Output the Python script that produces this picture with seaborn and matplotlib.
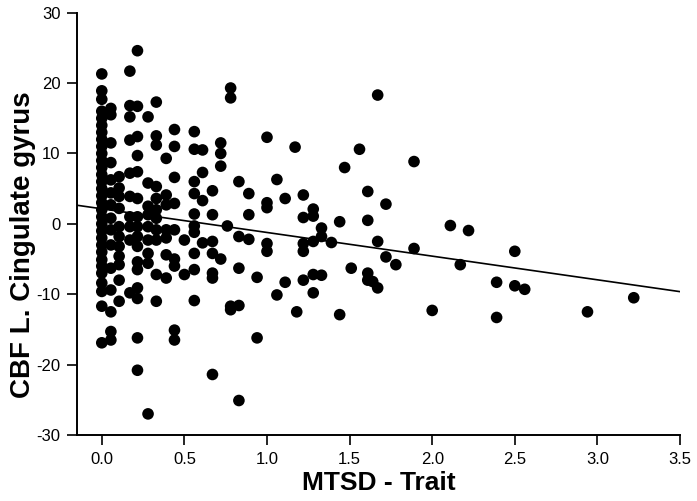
import numpy as np
import pandas as pd
import seaborn as sns
import matplotlib.pyplot as plt

# ---- data ----
x_vals = (
    [0.0] * 31
    + [0.055] * 15
    + [0.105] * 11
    + [0.17] * 10
    + [0.216] * 16
    + [0.28] * 9
    + [0.33] * 11
    + [0.39] * 7
    + [0.44] * 9
    + [0.50] * 2
    + [0.56] * 10
    + [0.61] * 4
    + [0.67] * 7
    + [0.72] * 4
    + [0.76]
    + [0.78] * 4
    + [0.83] * 5
    + [0.89] * 3
    + [0.94] * 2
    + [1.0] * 5
    + [1.06] * 2
    + [1.11] * 2
    + [1.17, 1.18]
    + [1.22] * 5
    + [1.28] * 5
    + [1.33] * 3
    + [1.39]
    + [1.44] * 2
    + [1.47, 1.51, 1.56]
    + [1.61] * 4
    + [1.64]
    + [1.67] * 3
    + [1.72] * 2
    + [1.78]
    + [1.89] * 2
    + [2.0, 2.11, 2.17, 2.22]
    + [2.39] * 2
    + [2.50] * 2
    + [2.56, 2.94, 3.22]
)
y_vals = (
    [21.3, 18.9, 17.7, 16.0, 15.0, 14.0, 13.0, 12.0, 11.0, 10.0, 9.0, 8.0, 7.0, 6.0, 5.0, 4.0,
     3.0, 2.0, 1.0, 0.0, -1.0, -2.0, -3.0, -4.0, -5.1, -6.0, -7.0, -8.4, -9.6, -11.7, -16.9]
    + [16.4, 15.5, 11.5, 8.7, 6.25, 4.4, 2.7, 0.8, -0.85, -3.0, -6.3, -9.4, -12.5, -15.3, -16.5]
    + [6.7, 5.1, 3.9, 2.2, -0.4, -1.8, -3.2, -4.6, -5.8, -8.0, -11.0]
    + [21.7, 16.8, 15.2, 11.9, 7.2, 3.9, 1.0, -0.4, -2.3, -9.8]
    + [24.6, 16.7, 12.4, 9.7, 7.4, 3.6, 1.0, -0.4, -1.8, -3.2, -5.4, -6.5, -9.1, -10.6, -16.2, -20.8]
    + [15.2, 5.8, 2.5, 1.3, -0.4, -2.3, -4.2, -5.6, -27.0]
    + [17.3, 12.5, 11.2, 5.3, 3.6, 2.0, 0.8, -0.85, -2.3, -7.2, -11.0]
    + [9.3, 4.1, 2.7, -0.85, -2.0, -4.4, -7.7]
    + [13.4, 11.0, 6.6, 2.9, -0.85, -5.0, -6.0, -15.1, -16.5]
    + [-2.3, -7.2]
    + [13.1, 10.6, 6.0, 4.3, 1.4, -0.3, -1.2, -4.2, -6.5, -10.9]
    + [10.5, 7.3, 3.3, -2.7]
    + [4.7, 1.3, -2.5, -4.2, -7.0, -7.7, -21.4]
    + [11.5, 10.0, 8.2, -5.0]
    + [-0.3]
    + [19.3, 17.9, -11.7, -12.2]
    + [6.0, -1.8, -6.3, -11.6, -25.1]
    + [4.3, 1.3, -2.2]
    + [-7.6, -16.2]
    + [12.3, 3.0, 2.3, -2.8, -3.9]
    + [6.3, -10.1]
    + [3.6, -8.3]
    + [10.9, -12.5]
    + [4.1, 0.9, -2.8, -3.9, -8.0]
    + [2.1, 1.1, -2.5, -7.2, -9.8]
    + [-0.6, -1.8, -7.3]
    + [-2.65]
    + [0.3, -12.9]
    + [8.0, -6.3, 10.6]
    + [4.6, 0.5, -7.0, -8.0]
    + [-8.2]
    + [18.3, -2.5, -9.1]
    + [2.8, -4.7]
    + [-5.8]
    + [8.85, -3.5]
    + [-12.3, -0.24, -5.8, -0.95]
    + [-8.3, -13.3]
    + [-3.9, -8.8]
    + [-9.3, -12.5, -10.5]
)

x_label = "MTSD - Trait"
y_label = "CBF L. Cingulate gyrus"
x_ticks = [0.0, 0.5, 1.0, 1.5, 2.0, 2.5, 3.0, 3.5]
y_ticks = [-30, -20, -10, 0, 10, 20, 30]

df = pd.DataFrame({x_label: x_vals, y_label: y_vals})

sns.set_theme(style="ticks")
plt.rcParams["font.family"] = ["Liberation Sans", "DejaVu Sans"]
plt.rcParams["text.color"] = "black"
plt.rcParams["axes.labelcolor"] = "black"

fig = plt.figure(figsize=(6.97, 5.01), dpi=100)
ax = fig.add_axes([77 / 697, 1 - 435 / 501, (680 - 77) / 697, (435 - 12.7) / 501])
ax.set_xlim(-0.15, 3.5)
ax.set_ylim(-30, 30)

sns.regplot(
    data=df, x=x_label, y=y_label, ax=ax, ci=None, truncate=False,
    scatter_kws=dict(s=70, color="black", edgecolors="none", alpha=1, zorder=3),
    line_kws=dict(color="black", lw=1.2, zorder=2),
)
ax.set_xlim(-0.15, 3.5)
ax.set_ylim(-30, 30)
ax.set_xticks(x_ticks)
ax.set_xticklabels([f"{t:.1f}" for t in x_ticks])
ax.set_yticks(y_ticks)
ax.set_yticklabels([str(t) for t in y_ticks])
ax.tick_params(direction="out", length=7, width=1.2, labelsize=12, colors="black", pad=5)
for side in ["left", "bottom"]:
    ax.spines[side].set_linewidth(1.4)
    ax.spines[side].set_color("black")
sns.despine(ax=ax)
ax.set_xlabel(x_label, fontsize=19, fontweight="bold", labelpad=3, color="black")
ax.set_ylabel(y_label, fontsize=20, fontweight="bold", color="black")
ax.yaxis.set_label_coords(-0.068, 0.45)

fig.savefig("out.png", dpi=100)
